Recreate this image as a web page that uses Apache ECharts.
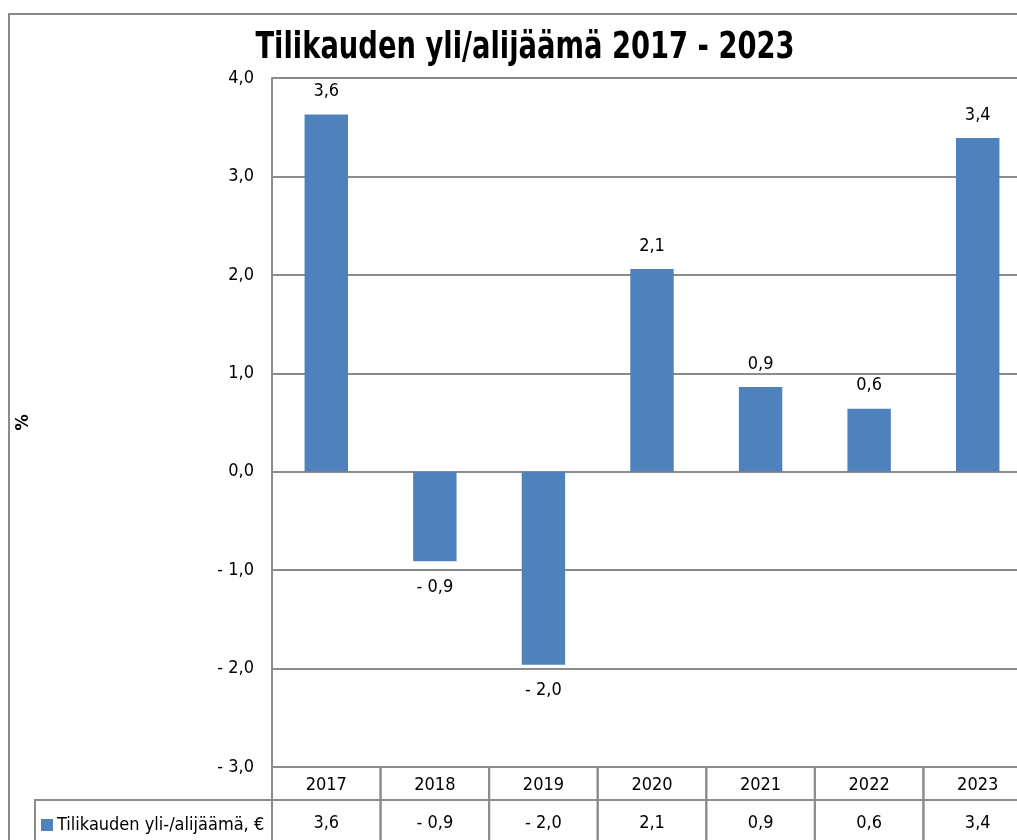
<!DOCTYPE html>
<html>
<head>
<meta charset="utf-8">
<script src="https://cdn.jsdelivr.net/npm/echarts@6/dist/echarts.min.js"></script>
<style>
  html, body { margin: 0; padding: 0; overflow: hidden; background: #fff; }
  #chart { width: 1045px; height: 860px; }
</style>
</head>
<body>
<div id="chart"></div>
<script>
// vuodet ja yli/alijäämä (%)
var years = ['2017', '2018', '2019', '2020', '2021', '2022', '2023']
var values = [3.63, -0.91, -1.96, 2.06, 0.86, 0.64, 3.39]
var yTicks = { min: -3, max: 4, interval: 1 }
var seriesName = 'Tilikauden yli-/alijäämä, €'
var titleText = 'Tilikauden yli/alijäämä 2017 - 2023'

var FONT = "'Liberation Sans Narrow', 'DejaVu Sans Condensed', 'Liberation Sans', sans-serif"
var FS = 18
var GRID_COLOR = '#8c8c8c'
var BAR_COLOR = '#4f81bd'

// 3.6 -> "3,6", -0.9 -> "- 0,9"
function fmt(v) {
  var s = Math.abs(v).toFixed(1).replace('.', ',')
  return v < 0 ? '- ' + s : s
}

var chart = echarts.init(document.getElementById('chart'))

var option = {
  animation: false,
  textStyle: { fontFamily: FONT },
  legend: {
    data: [seriesName],
    left: 36,
    top: 811,
    icon: 'rect',
    itemWidth: 12,
    itemHeight: 12,
    itemGap: 4,
    textStyle: { fontFamily: FONT, fontSize: FS, color: '#000', padding: [0, 0, 0, -1] }
  },
  graphic: [
    {
      type: 'rect',
      z: -1,
      shape: { x: 9, y: 14, width: 1030, height: 840 },
      style: { fill: 'none', stroke: GRID_COLOR, lineWidth: 2 }
    },
    {
      // otsikko, kapeaksi skaalattu
      type: 'text',
      x: 525,
      y: 48,
      scaleX: 0.8,
      style: {
        text: titleText,
        align: 'center',
        verticalAlign: 'middle',
        font: 'bold 38px ' + FONT,
        fill: '#000'
      }
    }
  ],
  grid: [
    { left: 272, right: 13, top: 78, bottom: 93 },
    { left: 272, right: 13, top: 767, height: 80 }
  ],
  xAxis: [
    {
      type: 'category',
      data: years,
      axisLine: { show: false },
      axisTick: { show: false },
      axisLabel: { show: false }
    },
    {
      gridIndex: 1,
      type: 'category',
      data: years,
      show: false
    }
  ],
  yAxis: [
    {
      type: 'value',
      min: yTicks.min,
      max: yTicks.max,
      interval: yTicks.interval,
      name: '%',
      nameLocation: 'middle',
      nameRotate: 90,
      nameGap: 240,
      nameTextStyle: { fontFamily: FONT, fontSize: 18, fontWeight: 'bold', color: '#000' },
      axisLine: { show: true, lineStyle: { color: GRID_COLOR, width: 2 } },
      axisTick: { show: false },
      axisLabel: {
        margin: 18,
        fontSize: FS,
        color: '#000',
        fontFamily: FONT,
        formatter: fmt
      },
      splitLine: { lineStyle: { color: GRID_COLOR, width: 2 } }
    },
    {
      gridIndex: 1,
      type: 'value',
      min: 0,
      max: 1,
      show: false
    }
  ],
  series: [
    {
      name: seriesName,
      type: 'bar',
      barWidth: '40%',
      itemStyle: { color: BAR_COLOR },
      label: {
        show: true,
        fontSize: FS,
        color: '#000',
        fontFamily: FONT,
        formatter: function (p) { return fmt(p.value) }
      },
      data: values.map(function (v) {
        return {
          value: v,
          label: v < 0 ? { position: 'bottom', distance: 17 } : { position: 'top', distance: 14 }
        }
      })
    },
    {
      // taulukko kaavion alla
      name: 'table',
      type: 'custom',
      xAxisIndex: 1,
      yAxisIndex: 1,
      clip: false,
      silent: true,
      encode: { x: 0, y: 1 },
      data: values.map(function (v, i) { return [i, v] }),
      renderItem: function (params, api) {
        var cx = api.coord([api.value(0), 0])[0]
        var w = api.size([1, 0])[0]
        var top = params.coordSys.y
        var left = cx - w / 2
        var rowH = 33
        var lineStyle = { fill: 'none', stroke: GRID_COLOR, lineWidth: 2 }
        var children = [
          { type: 'rect', shape: { x: left, y: top, width: w, height: rowH }, style: lineStyle },
          { type: 'rect', shape: { x: left, y: top + rowH, width: w, height: 60 }, style: lineStyle },
          {
            type: 'text',
            style: {
              text: years[params.dataIndex], x: cx, y: top + 18,
              align: 'center', verticalAlign: 'middle',
              fontSize: FS, fontFamily: FONT, fill: '#000'
            }
          },
          {
            type: 'text',
            style: {
              text: fmt(api.value(1)), x: cx, y: top + rowH + 23,
              align: 'center', verticalAlign: 'middle',
              fontSize: FS, fontFamily: FONT, fill: '#000'
            }
          }
        ]
        if (params.dataIndex === 0) {
          children.push({
            type: 'rect',
            shape: { x: 35, y: top + rowH, width: left - 35, height: 60 },
            style: lineStyle
          })
        }
        return { type: 'group', children: children }
      }
    }
  ]
}

chart.setOption(option)
</script>
</body>
</html>
